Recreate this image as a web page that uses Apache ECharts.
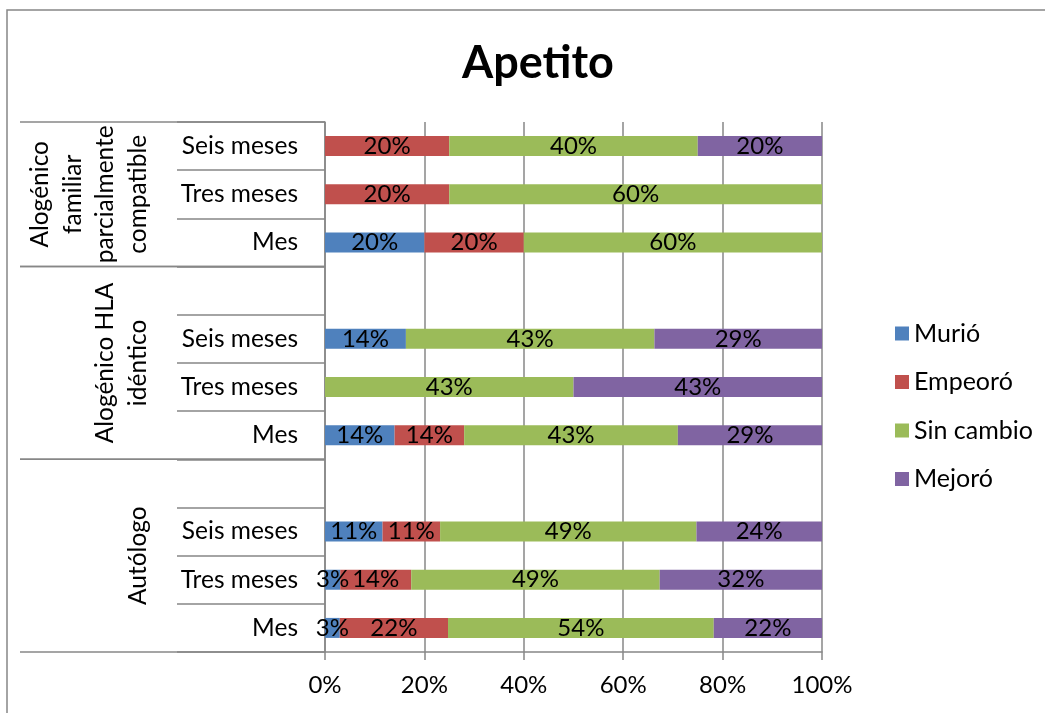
<!DOCTYPE html>
<html>
<head>
<meta charset="utf-8">
<script src="https://cdn.jsdelivr.net/npm/echarts@6/dist/echarts.min.js"></script>
<style>
html, body { margin: 0; padding: 0; background: #ffffff; }
#chart { width: 1045px; height: 713px; }
</style>
</head>
<body>
<div id="chart"></div>
<script>
// Category rows, bottom to top; the empty rows separate the transplant groups
const categories = ['Mes', 'Tres meses', 'Seis meses', '', 'Mes', 'Tres meses', 'Seis meses', '', 'Mes', 'Tres meses', 'Seis meses'];
const groupNames = ['Autólogo', 'Alogénico HLA\nidéntico', 'Alogénico\nfamiliar\nparcialmente\ncompatible'];
const groupSpans = [[0, 3], [4, 7], [8, 10]];

// Percentages per outcome (null = no patients in that outcome)
const seriesNames = ['Murió', 'Empeoró', 'Sin cambio', 'Mejoró'];
const murio     = [3, 3, 11, null, 14, null, 14, null, 20, null, null];
const empeoro   = [22, 14, 11, null, 14, null, null, null, 20, 20, 20];
const sinCambio = [54, 49, 49, null, 43, 43, 43, null, 60, 60, 40];
const mejoro    = [22, 32, 24, null, 29, 43, 29, null, null, null, 20];

const colors = ['#4F81BD', '#C0504D', '#9BBB59', '#8064A2'];
const FONT = 'Lato';
const GRID_COLOR = '#878787';

// 100% stacked: each row is scaled to its own total
const raw = [murio, empeoro, sinCambio, mejoro];
const totals = categories.map((_, i) => raw.reduce((s, arr) => s + (arr[i] || 0), 0));
const shares = raw.map(arr => arr.map((v, i) => (v == null || !totals[i]) ? 0 : v / totals[i] * 100));

const barSeries = raw.map((arr, k) => ({
  name: seriesNames[k],
  type: 'bar',
  stack: 'total',
  barWidth: 20,
  data: shares[k],
  itemStyle: { color: colors[k] },
  label: {
    show: true,
    position: 'inside',
    color: '#000',
    fontFamily: FONT,
    fontSize: 24,
    formatter: p => (arr[p.dataIndex] == null ? '' : arr[p.dataIndex] + '%')
  }
}));

// Second-level category labels and the lines bounding each group
const groupSeries = {
  type: 'custom',
  silent: true,
  clip: false,
  z: 3,
  data: groupSpans.map(s => [0, s[0], s[1]]),
  encode: { x: 0, y: 1 },
  renderItem: (params, api) => {
    const start = api.value(1);
    const end = api.value(2);
    const band = api.size([0, 1])[1];
    const p0 = api.coord([0, start]);
    const p1 = api.coord([0, end]);
    const axisX = p0[0];
    const yBottom = p0[1] + band / 2;
    const yTop = p1[1] - band / 2;
    const lineStyle = { stroke: GRID_COLOR, lineWidth: 1.5 };
    return {
      type: 'group',
      children: [
        { type: 'line', shape: { x1: axisX - 305, y1: yBottom, x2: axisX, y2: yBottom }, style: lineStyle },
        { type: 'line', shape: { x1: axisX - 305, y1: yTop, x2: axisX, y2: yTop }, style: lineStyle },
        {
          type: 'text',
          x: axisX - 171,
          y: (yBottom + yTop) / 2,
          rotation: Math.PI / 2,
          style: {
            text: groupNames[params.dataIndex],
            fontFamily: FONT,
            fontSize: 24.5,
            lineHeight: 32.5,
            fill: '#000',
            align: 'center',
            verticalAlign: 'bottom'
          }
        }
      ]
    };
  }
};

const chart = echarts.init(document.getElementById('chart'), null, { renderer: 'canvas' });
chart.setOption({
  animation: false,
  backgroundColor: '#ffffff',
  title: {
    text: 'Apetito',
    left: 533,
    top: 36,
    textAlign: 'center',
    textStyle: { fontFamily: FONT, fontSize: 45, fontWeight: 'bold', color: '#000' }
  },
  legend: {
    orient: 'vertical',
    left: 890,
    top: 316,
    itemWidth: 14,
    itemHeight: 14,
    itemGap: 23.5,
    icon: 'rect',
    data: seriesNames,
    textStyle: { fontFamily: FONT, fontSize: 25, color: '#000', lineHeight: 25 }
  },
  graphic: [{
    type: 'rect',
    silent: true,
    z: -10,
    shape: { x: 7, y: 10, width: 1100, height: 800 },
    style: { fill: null, stroke: GRID_COLOR, lineWidth: 1.5 }
  }],
  grid: { left: 325, right: 223, top: 122, bottom: 61, containLabel: false, outerBoundsMode: 'none' },
  xAxis: {
    type: 'value',
    min: 0,
    max: 100,
    interval: 20,
    axisLine: { show: true, lineStyle: { color: GRID_COLOR, width: 1.5 } },
    axisTick: { show: true, length: 8, lineStyle: { color: GRID_COLOR, width: 1.5 } },
    splitLine: { show: true, lineStyle: { color: GRID_COLOR, width: 1.5 } },
    axisLabel: { formatter: '{value}%', fontFamily: FONT, fontSize: 24, color: '#000', margin: 21 }
  },
  yAxis: {
    type: 'category',
    data: categories,
    axisLine: { show: true, lineStyle: { color: GRID_COLOR, width: 1.5 } },
    axisTick: { show: true, length: 148, interval: 0, lineStyle: { color: GRID_COLOR, width: 1.5 } },
    splitLine: { show: false },
    axisLabel: { interval: 0, fontFamily: FONT, fontSize: 24.5, color: '#000', margin: 27 }
  },
  series: barSeries.concat([groupSeries])
});
</script>
</body>
</html>
